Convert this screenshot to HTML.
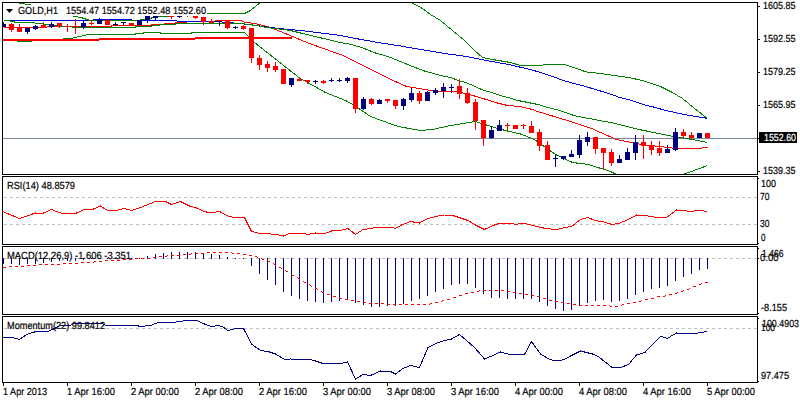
<!DOCTYPE html><html><head><meta charset="utf-8"><style>html,body{margin:0;padding:0;background:#fff;width:800px;height:400px;overflow:hidden}svg{display:block;text-rendering:geometricPrecision}text{font-family:"Liberation Sans",sans-serif;font-size:10px}</style></head><body>
<svg width="800" height="400" viewBox="0 0 800 400" shape-rendering="crispEdges">
<rect width="800" height="400" fill="#fff"/>
<defs><clipPath id="cm"><rect x="3" y="3" width="754" height="171"/></clipPath><clipPath id="cr"><rect x="3" y="177" width="754" height="67"/></clipPath><clipPath id="cd"><rect x="3" y="247" width="754" height="67"/></clipPath><clipPath id="co"><rect x="3" y="317" width="754" height="65"/></clipPath></defs>
<g clip-path="url(#cm)">
<rect x="3" y="138" width="754" height="1" fill="#778899"/>
<polyline points="3.5,27.5 30.5,27.5 63.5,26.5 111.5,26.5 111.5,25.5 151.5,25.5 151.5,24.5 160.5,24.5 167.5,23.5 175.5,23.5 175.5,22.5 183.5,22.5 190.5,21.5 214.5,21.5 215.5,20.5 240.5,20.5 245.5,22.5 255.5,23.5 262.5,25.5 270.5,27.5 278,30.5 308,43 343,55.5 368,68 393,80.5 405.5,86 412.5,87.5 430.5,90.5 440.5,91.5 456.5,91.5 465.5,93.5 474.5,96 484.5,99 497.5,103 507.5,105.5 520.5,106.5 528,108.5 533,109.5 534.5,110.5 570.5,121.5 591.5,128.5 600.5,132.5 616.5,139.5 641.5,144.5 668.5,147.5 675.5,148.5 701.5,148.5 702.5,147.5 707.5,147.5" fill="none" stroke="#ff0000" stroke-width="1" />
<polyline points="8.5,20.5 90.5,20.5 95.5,19.5 128.5,19.5 135.5,20.5 176.5,20.5 177.5,21.5 215.5,21.5 240.5,23.5 278.5,28.5 300.5,30.5 340.5,35.5 358.5,39 378,42.5 400.5,46 420.5,49.5 444.5,53.5 466.5,56.5 486.5,60.5 508.5,64.5 530.5,69.5 540.5,72.5 555.5,77.5 563,80.5 570.5,82.5 585.5,86.5 595.5,89.5 605.5,92.5 614.5,95.5 619.5,97.5 628,99.5 638,102.5 643,104.5 651.5,106.5 655.5,107.5 665.5,110.5 684.5,114.5 707.5,118.5" fill="none" stroke="#0000dd" stroke-width="1" />
<polyline points="18.5,3.5 24.5,3.5 25.5,4.5 30.5,5 74.5,16.5" fill="none" stroke="#008000" stroke-width="1" />
<polyline points="74.5,16.5 80.5,17.5 84.5,18.5 86.5,19.5 90.5,20.5 135.5,20.5 145.5,19.5 151.5,18 161.5,16.5 168.5,16.5 169.5,15.5 206.5,13.5 244.5,13.5 250.5,10.5 261.5,1.5" fill="none" stroke="#008000" stroke-width="1" />
<polyline points="409.5,1.5 422.5,8.5 430.5,14.5 440.5,20.5 452.5,30.5 464.5,40.5 474.5,50.5 482.5,57.5 492.5,59.5 510.5,62.5 520.5,65.5 542.5,65.5 543.5,64.5 564.5,64.5 586.5,72 600.5,73.5 614.5,75.5 628.5,77.5 642.5,80.5 660.5,86.5 672.5,92.5 682.5,98.5 694.5,108.5 707.5,118.5" fill="none" stroke="#008000" stroke-width="1" />
<polyline points="3.5,20.5 8.5,20.5 16.5,22.5 30.5,22.5 62.5,26.5 80.5,27.5 135.5,27.5 135.5,26.5 151.5,26.5 151.5,25.5 159.5,25.5 159.5,24.5 175.5,24.5 175.5,23.5 240.5,23.5 256.5,25.5 266.5,27.5 290.5,30.5 300.5,33 340.5,42.5 350.5,44.25 363,48 375.5,53 388,56.5 400.5,61.5 412.5,66.5 424.5,71 440.5,75.5 450.5,77.5 458.5,80.5 465.5,82.5 473,85.5 481.5,89.5 488,91.5 494.5,93.5 500.5,95.5 508,97.5 518,100.5 528,102.5 538,104.5 548,107.5 559.5,110.5 574,115.5 583.5,117.5 610.5,122.5 641.5,130 673.5,136.5 689.5,139 707.5,142.5" fill="none" stroke="#008000" stroke-width="1" />
<polyline points="16.5,41.5 31.5,41.5 32.5,40.5 62.5,40.5 63.5,38.5 70.5,38.5 88.5,34.5 135.5,34.5 135.5,33.5 143.5,33.5 143.5,32.5 160.5,32.5 160.5,33.5 191.5,33.5 191.5,32.5 244.5,32.5 249.5,37.5 254.5,42.5 299.5,78 325.5,92.5 345.5,100.5 354.5,105.5 370.5,116.5 398,126.5 420.5,130.5 432.5,129.5 450.5,125.5 475.5,121.5 486.5,125 497.5,128.5 509.5,131.5 520.5,134 534.5,139.5 555.5,154.5 572.5,162.5 588.5,164.5 610.5,171.5 618.5,175.5" fill="none" stroke="#008000" stroke-width="1" />
<polyline points="680.5,175.5 707.5,165.5" fill="none" stroke="#008000" stroke-width="1" />
<rect x="3" y="39" width="96" height="2" fill="#ff0000"/>
<rect x="99" y="38" width="96" height="2" fill="#ff0000"/>
<rect x="195" y="37" width="97" height="2" fill="#ff0000"/>
<rect x="3" y="22" width="1" height="5" fill="#000080"/>
<rect x="1" y="24" width="5" height="3" fill="#000080"/>
<rect x="11" y="23" width="1" height="9" fill="#ff0000"/>
<rect x="9" y="24" width="5" height="6" fill="#ff0000"/>
<rect x="19" y="24" width="1" height="8" fill="#ff0000"/>
<rect x="17" y="28" width="5" height="4" fill="#ff0000"/>
<rect x="27" y="28" width="1" height="6" fill="#000080"/>
<rect x="25" y="28" width="5" height="4" fill="#000080"/>
<rect x="35" y="25" width="1" height="5" fill="#000080"/>
<rect x="33" y="26" width="5" height="3" fill="#000080"/>
<rect x="43" y="22" width="1" height="6" fill="#ff0000"/>
<rect x="41" y="25" width="5" height="3" fill="#ff0000"/>
<rect x="51" y="22" width="1" height="6" fill="#000080"/>
<rect x="49" y="24" width="5" height="3" fill="#000080"/>
<rect x="59" y="23" width="1" height="5" fill="#ff0000"/>
<rect x="57" y="23" width="5" height="3" fill="#ff0000"/>
<rect x="67" y="24" width="1" height="8" fill="#ff0000"/>
<rect x="65" y="26" width="5" height="1" fill="#ff0000"/>
<rect x="75" y="19" width="1" height="15" fill="#ff0000"/>
<rect x="73" y="26" width="5" height="1" fill="#ff0000"/>
<rect x="83" y="21" width="1" height="8" fill="#000080"/>
<rect x="81" y="23" width="5" height="4" fill="#000080"/>
<rect x="91" y="20" width="1" height="5" fill="#ff0000"/>
<rect x="89" y="23" width="5" height="1" fill="#ff0000"/>
<rect x="99" y="18" width="1" height="6" fill="#000080"/>
<rect x="97" y="20" width="5" height="4" fill="#000080"/>
<rect x="107" y="20" width="1" height="5" fill="#ff0000"/>
<rect x="105" y="20" width="5" height="5" fill="#ff0000"/>
<rect x="115" y="22" width="1" height="4" fill="#000080"/>
<rect x="113" y="24" width="5" height="1" fill="#000080"/>
<rect x="123" y="22" width="1" height="4" fill="#000080"/>
<rect x="121" y="22" width="5" height="1" fill="#000080"/>
<rect x="131" y="23" width="1" height="2" fill="#ff0000"/>
<rect x="129" y="23" width="5" height="2" fill="#ff0000"/>
<rect x="139" y="20" width="1" height="5" fill="#000080"/>
<rect x="137" y="20" width="5" height="5" fill="#000080"/>
<rect x="147" y="16" width="1" height="7" fill="#000080"/>
<rect x="145" y="16" width="5" height="4" fill="#000080"/>
<rect x="155" y="16" width="1" height="5" fill="#000080"/>
<rect x="153" y="16" width="5" height="2" fill="#000080"/>
<rect x="171" y="16" width="1" height="3" fill="#ff0000"/>
<rect x="169" y="16" width="5" height="1" fill="#ff0000"/>
<rect x="179" y="16" width="1" height="2" fill="#000080"/>
<rect x="177" y="16" width="5" height="1" fill="#000080"/>
<rect x="187" y="15" width="1" height="2" fill="#ff0000"/>
<rect x="185" y="15" width="5" height="1" fill="#ff0000"/>
<rect x="195" y="16" width="1" height="3" fill="#ff0000"/>
<rect x="193" y="16" width="5" height="2" fill="#ff0000"/>
<rect x="203" y="17" width="1" height="8" fill="#ff0000"/>
<rect x="201" y="17" width="5" height="5" fill="#ff0000"/>
<rect x="211" y="19" width="1" height="4" fill="#ff0000"/>
<rect x="209" y="21" width="5" height="2" fill="#ff0000"/>
<rect x="219" y="21" width="1" height="5" fill="#000080"/>
<rect x="217" y="21" width="5" height="1" fill="#000080"/>
<rect x="227" y="20" width="1" height="9" fill="#ff0000"/>
<rect x="225" y="20" width="5" height="8" fill="#ff0000"/>
<rect x="235" y="26" width="1" height="3" fill="#000080"/>
<rect x="233" y="27" width="5" height="1" fill="#000080"/>
<rect x="243" y="25" width="1" height="5" fill="#ff0000"/>
<rect x="241" y="26" width="5" height="3" fill="#ff0000"/>
<rect x="251" y="28" width="1" height="35" fill="#ff0000"/>
<rect x="249" y="28" width="5" height="30" fill="#ff0000"/>
<rect x="259" y="55" width="1" height="15" fill="#ff0000"/>
<rect x="257" y="58" width="5" height="7" fill="#ff0000"/>
<rect x="267" y="61" width="1" height="11" fill="#ff0000"/>
<rect x="265" y="64" width="5" height="4" fill="#ff0000"/>
<rect x="275" y="62" width="1" height="10" fill="#ff0000"/>
<rect x="273" y="66" width="5" height="4" fill="#ff0000"/>
<rect x="283" y="69" width="1" height="15" fill="#ff0000"/>
<rect x="281" y="69" width="5" height="15" fill="#ff0000"/>
<rect x="291" y="78" width="1" height="9" fill="#000080"/>
<rect x="289" y="78" width="5" height="7" fill="#000080"/>
<rect x="299" y="77" width="1" height="4" fill="#ff0000"/>
<rect x="297" y="79" width="5" height="2" fill="#ff0000"/>
<rect x="307" y="80" width="1" height="4" fill="#ff0000"/>
<rect x="305" y="80" width="5" height="2" fill="#ff0000"/>
<rect x="315" y="80" width="1" height="4" fill="#000080"/>
<rect x="313" y="81" width="5" height="1" fill="#000080"/>
<rect x="323" y="80" width="1" height="4" fill="#ff0000"/>
<rect x="321" y="81" width="5" height="2" fill="#ff0000"/>
<rect x="331" y="78" width="1" height="4" fill="#000080"/>
<rect x="329" y="80" width="5" height="1" fill="#000080"/>
<rect x="339" y="78" width="1" height="4" fill="#000080"/>
<rect x="337" y="80" width="5" height="1" fill="#000080"/>
<rect x="347" y="77" width="1" height="6" fill="#000080"/>
<rect x="345" y="78" width="5" height="3" fill="#000080"/>
<rect x="355" y="78" width="1" height="35" fill="#ff0000"/>
<rect x="353" y="78" width="5" height="31" fill="#ff0000"/>
<rect x="363" y="97" width="1" height="13" fill="#000080"/>
<rect x="361" y="99" width="5" height="10" fill="#000080"/>
<rect x="371" y="98" width="1" height="7" fill="#ff0000"/>
<rect x="369" y="99" width="5" height="5" fill="#ff0000"/>
<rect x="379" y="99" width="1" height="5" fill="#000080"/>
<rect x="377" y="100" width="5" height="4" fill="#000080"/>
<rect x="387" y="99" width="1" height="4" fill="#ff0000"/>
<rect x="385" y="99" width="5" height="2" fill="#ff0000"/>
<rect x="395" y="100" width="1" height="9" fill="#ff0000"/>
<rect x="393" y="100" width="5" height="6" fill="#ff0000"/>
<rect x="403" y="98" width="1" height="12" fill="#000080"/>
<rect x="401" y="99" width="5" height="7" fill="#000080"/>
<rect x="411" y="88" width="1" height="14" fill="#000080"/>
<rect x="409" y="93" width="5" height="7" fill="#000080"/>
<rect x="419" y="91" width="1" height="13" fill="#ff0000"/>
<rect x="417" y="93" width="5" height="8" fill="#ff0000"/>
<rect x="427" y="91" width="1" height="10" fill="#000080"/>
<rect x="425" y="92" width="5" height="9" fill="#000080"/>
<rect x="435" y="88" width="1" height="7" fill="#000080"/>
<rect x="433" y="90" width="5" height="3" fill="#000080"/>
<rect x="443" y="83" width="1" height="15" fill="#000080"/>
<rect x="441" y="87" width="5" height="4" fill="#000080"/>
<rect x="451" y="84" width="1" height="9" fill="#000080"/>
<rect x="449" y="87" width="5" height="1" fill="#000080"/>
<rect x="459" y="79" width="1" height="20" fill="#ff0000"/>
<rect x="457" y="86" width="5" height="8" fill="#ff0000"/>
<rect x="467" y="88" width="1" height="16" fill="#ff0000"/>
<rect x="465" y="93" width="5" height="10" fill="#ff0000"/>
<rect x="475" y="99" width="1" height="31" fill="#ff0000"/>
<rect x="473" y="102" width="5" height="19" fill="#ff0000"/>
<rect x="483" y="120" width="1" height="26" fill="#ff0000"/>
<rect x="481" y="120" width="5" height="18" fill="#ff0000"/>
<rect x="491" y="126" width="1" height="13" fill="#000080"/>
<rect x="489" y="130" width="5" height="8" fill="#000080"/>
<rect x="499" y="120" width="1" height="11" fill="#000080"/>
<rect x="497" y="125" width="5" height="6" fill="#000080"/>
<rect x="507" y="123" width="1" height="7" fill="#ff0000"/>
<rect x="505" y="125" width="5" height="1" fill="#ff0000"/>
<rect x="515" y="125" width="1" height="4" fill="#ff0000"/>
<rect x="513" y="125" width="5" height="4" fill="#ff0000"/>
<rect x="523" y="124" width="1" height="5" fill="#ff0000"/>
<rect x="521" y="125" width="5" height="1" fill="#ff0000"/>
<rect x="531" y="121" width="1" height="12" fill="#ff0000"/>
<rect x="529" y="126" width="5" height="7" fill="#ff0000"/>
<rect x="539" y="129" width="1" height="22" fill="#ff0000"/>
<rect x="537" y="132" width="5" height="14" fill="#ff0000"/>
<rect x="547" y="141" width="1" height="19" fill="#ff0000"/>
<rect x="545" y="145" width="5" height="15" fill="#ff0000"/>
<rect x="555" y="155" width="1" height="12" fill="#000080"/>
<rect x="553" y="158" width="5" height="1" fill="#000080"/>
<rect x="563" y="156" width="1" height="4" fill="#000080"/>
<rect x="561" y="156" width="5" height="3" fill="#000080"/>
<rect x="571" y="150" width="1" height="7" fill="#000080"/>
<rect x="569" y="154" width="5" height="3" fill="#000080"/>
<rect x="579" y="135" width="1" height="23" fill="#000080"/>
<rect x="577" y="140" width="5" height="15" fill="#000080"/>
<rect x="587" y="132" width="1" height="14" fill="#000080"/>
<rect x="585" y="137" width="5" height="5" fill="#000080"/>
<rect x="595" y="137" width="1" height="17" fill="#ff0000"/>
<rect x="593" y="137" width="5" height="12" fill="#ff0000"/>
<rect x="603" y="148" width="1" height="22" fill="#ff0000"/>
<rect x="601" y="148" width="5" height="5" fill="#ff0000"/>
<rect x="611" y="149" width="1" height="17" fill="#ff0000"/>
<rect x="609" y="152" width="5" height="11" fill="#ff0000"/>
<rect x="619" y="155" width="1" height="8" fill="#000080"/>
<rect x="617" y="159" width="5" height="4" fill="#000080"/>
<rect x="627" y="148" width="1" height="12" fill="#000080"/>
<rect x="625" y="152" width="5" height="8" fill="#000080"/>
<rect x="635" y="135" width="1" height="25" fill="#000080"/>
<rect x="633" y="142" width="5" height="11" fill="#000080"/>
<rect x="643" y="135" width="1" height="24" fill="#ff0000"/>
<rect x="641" y="142" width="5" height="4" fill="#ff0000"/>
<rect x="651" y="141" width="1" height="14" fill="#ff0000"/>
<rect x="649" y="145" width="5" height="5" fill="#ff0000"/>
<rect x="659" y="141" width="1" height="15" fill="#ff0000"/>
<rect x="657" y="148" width="5" height="5" fill="#ff0000"/>
<rect x="667" y="145" width="1" height="8" fill="#000080"/>
<rect x="665" y="149" width="5" height="4" fill="#000080"/>
<rect x="675" y="128" width="1" height="23" fill="#000080"/>
<rect x="673" y="132" width="5" height="18" fill="#000080"/>
<rect x="683" y="129" width="1" height="9" fill="#ff0000"/>
<rect x="681" y="132" width="5" height="4" fill="#ff0000"/>
<rect x="691" y="132" width="1" height="7" fill="#ff0000"/>
<rect x="689" y="135" width="5" height="3" fill="#ff0000"/>
<rect x="699" y="133" width="1" height="5" fill="#000080"/>
<rect x="697" y="133" width="5" height="5" fill="#000080"/>
<rect x="707" y="133" width="1" height="5" fill="#ff0000"/>
<rect x="705" y="133" width="5" height="5" fill="#ff0000"/>
</g>
<g clip-path="url(#cr)">
<line x1="4" y1="197.5" x2="757" y2="197.5" stroke="#c0c0c0" stroke-dasharray="3,3"/>
<line x1="4" y1="224.5" x2="757" y2="224.5" stroke="#c0c0c0" stroke-dasharray="3,3"/>
<polyline points="2.5,211.5 19.5,218.5 35.5,213 42.5,213.5 51.5,209.5 60.5,213 75.5,213.5 84.5,209.5 92.5,209.5 100.5,206 107.5,210.5 115.5,210.5 124.5,208.5 131.5,210.5 140.5,207.5 150.5,203.5 155.5,201.5 165.5,201.5 171.5,204.5 180.5,201.5 189.5,206 196.5,208 204.5,211.5 210.5,213 219.5,211.5 228,216 234.5,217.5 244.5,217.5 251.5,231.5 258,233 265.5,233.5 276.5,234.5 283.5,236 290.5,233 303,233 308,234.5 315.5,233 324.5,233.5 331.5,231 340.5,230.5 348,228.5 355.5,234.5 363,229.5 370.5,228.5 378,227 390.5,227 395.5,228.5 401.5,225 410.5,221.5 419.5,223 428,218.5 435.5,216.5 444.5,215 451.5,215 460.5,218 468,220.5 476.5,225.5 484.5,229.5 493,225.5 500.5,223 510.5,223 515.5,224.5 523,223 533,225.5 545.5,228.5 556.5,229.5 565.5,227.5 571.5,226.5 580.5,219.5 587.5,217.5 595.5,220.5 603.5,221.9 612.1,224.5 619,223.3 628.5,219.5 636.5,215 646.5,215.8 657.5,217.5 667.1,217.2 676.5,210 686.5,210.9 690.5,211.7 700.1,210 707,211.7" fill="none" stroke="#ff0000" stroke-width="1" />
</g>
<g clip-path="url(#cd)">
<line x1="4" y1="258.5" x2="757" y2="258.5" stroke="#c0c0c0" stroke-dasharray="3,3"/>
<rect x="3" y="258" width="1" height="6" fill="#000080"/>
<rect x="11" y="258" width="1" height="6" fill="#000080"/>
<rect x="19" y="258" width="1" height="7" fill="#000080"/>
<rect x="27" y="258" width="1" height="6" fill="#000080"/>
<rect x="35" y="258" width="1" height="6" fill="#000080"/>
<rect x="43" y="258" width="1" height="5" fill="#000080"/>
<rect x="51" y="258" width="1" height="4" fill="#000080"/>
<rect x="59" y="258" width="1" height="3" fill="#000080"/>
<rect x="67" y="258" width="1" height="3" fill="#000080"/>
<rect x="75" y="258" width="1" height="3" fill="#000080"/>
<rect x="83" y="258" width="1" height="2" fill="#000080"/>
<rect x="91" y="258" width="1" height="1" fill="#000080"/>
<rect x="99" y="258" width="1" height="1" fill="#000080"/>
<rect x="107" y="258" width="1" height="1" fill="#000080"/>
<rect x="115" y="258" width="1" height="1" fill="#000080"/>
<rect x="123" y="258" width="1" height="1" fill="#000080"/>
<rect x="131" y="258" width="1" height="1" fill="#000080"/>
<rect x="139" y="258" width="1" height="1" fill="#000080"/>
<rect x="147" y="256" width="1" height="3" fill="#000080"/>
<rect x="155" y="254" width="1" height="5" fill="#000080"/>
<rect x="163" y="253" width="1" height="6" fill="#000080"/>
<rect x="171" y="252" width="1" height="7" fill="#000080"/>
<rect x="179" y="252" width="1" height="7" fill="#000080"/>
<rect x="187" y="252" width="1" height="7" fill="#000080"/>
<rect x="195" y="252" width="1" height="7" fill="#000080"/>
<rect x="203" y="253" width="1" height="6" fill="#000080"/>
<rect x="211" y="254" width="1" height="5" fill="#000080"/>
<rect x="219" y="255" width="1" height="4" fill="#000080"/>
<rect x="227" y="257" width="1" height="2" fill="#000080"/>
<rect x="235" y="258" width="1" height="1" fill="#000080"/>
<rect x="243" y="258" width="1" height="1" fill="#000080"/>
<rect x="251" y="258" width="1" height="8" fill="#000080"/>
<rect x="259" y="258" width="1" height="16" fill="#000080"/>
<rect x="267" y="258" width="1" height="22" fill="#000080"/>
<rect x="275" y="258" width="1" height="27" fill="#000080"/>
<rect x="283" y="258" width="1" height="34" fill="#000080"/>
<rect x="291" y="258" width="1" height="38" fill="#000080"/>
<rect x="299" y="258" width="1" height="41" fill="#000080"/>
<rect x="307" y="258" width="1" height="43" fill="#000080"/>
<rect x="315" y="258" width="1" height="44" fill="#000080"/>
<rect x="323" y="258" width="1" height="45" fill="#000080"/>
<rect x="331" y="258" width="1" height="44" fill="#000080"/>
<rect x="339" y="258" width="1" height="43" fill="#000080"/>
<rect x="347" y="258" width="1" height="42" fill="#000080"/>
<rect x="355" y="258" width="1" height="45" fill="#000080"/>
<rect x="363" y="258" width="1" height="47" fill="#000080"/>
<rect x="371" y="258" width="1" height="49" fill="#000080"/>
<rect x="379" y="258" width="1" height="49" fill="#000080"/>
<rect x="387" y="258" width="1" height="48" fill="#000080"/>
<rect x="395" y="258" width="1" height="48" fill="#000080"/>
<rect x="403" y="258" width="1" height="46" fill="#000080"/>
<rect x="411" y="258" width="1" height="43" fill="#000080"/>
<rect x="419" y="258" width="1" height="41" fill="#000080"/>
<rect x="427" y="258" width="1" height="38" fill="#000080"/>
<rect x="435" y="258" width="1" height="34" fill="#000080"/>
<rect x="443" y="258" width="1" height="31" fill="#000080"/>
<rect x="451" y="258" width="1" height="27" fill="#000080"/>
<rect x="459" y="258" width="1" height="26" fill="#000080"/>
<rect x="467" y="258" width="1" height="26" fill="#000080"/>
<rect x="475" y="258" width="1" height="30" fill="#000080"/>
<rect x="483" y="258" width="1" height="36" fill="#000080"/>
<rect x="491" y="258" width="1" height="40" fill="#000080"/>
<rect x="499" y="258" width="1" height="40" fill="#000080"/>
<rect x="507" y="258" width="1" height="41" fill="#000080"/>
<rect x="515" y="258" width="1" height="41" fill="#000080"/>
<rect x="523" y="258" width="1" height="41" fill="#000080"/>
<rect x="531" y="258" width="1" height="41" fill="#000080"/>
<rect x="539" y="258" width="1" height="44" fill="#000080"/>
<rect x="547" y="258" width="1" height="48" fill="#000080"/>
<rect x="555" y="258" width="1" height="51" fill="#000080"/>
<rect x="563" y="258" width="1" height="53" fill="#000080"/>
<rect x="571" y="258" width="1" height="52" fill="#000080"/>
<rect x="579" y="258" width="1" height="48" fill="#000080"/>
<rect x="587" y="258" width="1" height="45" fill="#000080"/>
<rect x="595" y="258" width="1" height="43" fill="#000080"/>
<rect x="603" y="258" width="1" height="42" fill="#000080"/>
<rect x="611" y="258" width="1" height="44" fill="#000080"/>
<rect x="619" y="258" width="1" height="43" fill="#000080"/>
<rect x="627" y="258" width="1" height="41" fill="#000080"/>
<rect x="635" y="258" width="1" height="37" fill="#000080"/>
<rect x="643" y="258" width="1" height="34" fill="#000080"/>
<rect x="651" y="258" width="1" height="31" fill="#000080"/>
<rect x="659" y="258" width="1" height="30" fill="#000080"/>
<rect x="667" y="258" width="1" height="28" fill="#000080"/>
<rect x="675" y="258" width="1" height="23" fill="#000080"/>
<rect x="683" y="258" width="1" height="19" fill="#000080"/>
<rect x="691" y="258" width="1" height="16" fill="#000080"/>
<rect x="699" y="258" width="1" height="12" fill="#000080"/>
<rect x="707" y="258" width="1" height="11" fill="#000080"/>
<rect x="3" y="267" width="1" height="1" fill="#ff0000"/>
<rect x="4" y="267" width="1" height="1" fill="#ff0000"/>
<rect x="5" y="267" width="1" height="1" fill="#ff0000"/>
<rect x="9" y="266" width="1" height="1" fill="#ff0000"/>
<rect x="10" y="266" width="1" height="1" fill="#ff0000"/>
<rect x="11" y="266" width="1" height="1" fill="#ff0000"/>
<rect x="15" y="266" width="1" height="1" fill="#ff0000"/>
<rect x="16" y="266" width="1" height="1" fill="#ff0000"/>
<rect x="17" y="266" width="1" height="1" fill="#ff0000"/>
<rect x="21" y="266" width="1" height="1" fill="#ff0000"/>
<rect x="22" y="266" width="1" height="1" fill="#ff0000"/>
<rect x="23" y="266" width="1" height="1" fill="#ff0000"/>
<rect x="27" y="265" width="1" height="1" fill="#ff0000"/>
<rect x="28" y="265" width="1" height="1" fill="#ff0000"/>
<rect x="29" y="265" width="1" height="1" fill="#ff0000"/>
<rect x="33" y="265" width="1" height="1" fill="#ff0000"/>
<rect x="34" y="265" width="1" height="1" fill="#ff0000"/>
<rect x="35" y="265" width="1" height="1" fill="#ff0000"/>
<rect x="39" y="264" width="1" height="1" fill="#ff0000"/>
<rect x="40" y="264" width="1" height="1" fill="#ff0000"/>
<rect x="41" y="264" width="1" height="1" fill="#ff0000"/>
<rect x="45" y="264" width="1" height="1" fill="#ff0000"/>
<rect x="46" y="264" width="1" height="1" fill="#ff0000"/>
<rect x="47" y="264" width="1" height="1" fill="#ff0000"/>
<rect x="51" y="264" width="1" height="1" fill="#ff0000"/>
<rect x="52" y="264" width="1" height="1" fill="#ff0000"/>
<rect x="53" y="264" width="1" height="1" fill="#ff0000"/>
<rect x="57" y="264" width="1" height="1" fill="#ff0000"/>
<rect x="58" y="264" width="1" height="1" fill="#ff0000"/>
<rect x="59" y="264" width="1" height="1" fill="#ff0000"/>
<rect x="63" y="263" width="1" height="1" fill="#ff0000"/>
<rect x="64" y="263" width="1" height="1" fill="#ff0000"/>
<rect x="65" y="263" width="1" height="1" fill="#ff0000"/>
<rect x="69" y="263" width="1" height="1" fill="#ff0000"/>
<rect x="70" y="263" width="1" height="1" fill="#ff0000"/>
<rect x="71" y="263" width="1" height="1" fill="#ff0000"/>
<rect x="75" y="263" width="1" height="1" fill="#ff0000"/>
<rect x="76" y="263" width="1" height="1" fill="#ff0000"/>
<rect x="77" y="263" width="1" height="1" fill="#ff0000"/>
<rect x="81" y="262" width="1" height="1" fill="#ff0000"/>
<rect x="82" y="262" width="1" height="1" fill="#ff0000"/>
<rect x="83" y="262" width="1" height="1" fill="#ff0000"/>
<rect x="87" y="262" width="1" height="1" fill="#ff0000"/>
<rect x="88" y="262" width="1" height="1" fill="#ff0000"/>
<rect x="89" y="262" width="1" height="1" fill="#ff0000"/>
<rect x="93" y="262" width="1" height="1" fill="#ff0000"/>
<rect x="94" y="261" width="1" height="1" fill="#ff0000"/>
<rect x="95" y="261" width="1" height="1" fill="#ff0000"/>
<rect x="99" y="261" width="1" height="1" fill="#ff0000"/>
<rect x="100" y="261" width="1" height="1" fill="#ff0000"/>
<rect x="101" y="261" width="1" height="1" fill="#ff0000"/>
<rect x="105" y="260" width="1" height="1" fill="#ff0000"/>
<rect x="106" y="260" width="1" height="1" fill="#ff0000"/>
<rect x="107" y="260" width="1" height="1" fill="#ff0000"/>
<rect x="111" y="260" width="1" height="1" fill="#ff0000"/>
<rect x="112" y="260" width="1" height="1" fill="#ff0000"/>
<rect x="113" y="260" width="1" height="1" fill="#ff0000"/>
<rect x="117" y="260" width="1" height="1" fill="#ff0000"/>
<rect x="118" y="260" width="1" height="1" fill="#ff0000"/>
<rect x="119" y="260" width="1" height="1" fill="#ff0000"/>
<rect x="123" y="259" width="1" height="1" fill="#ff0000"/>
<rect x="124" y="259" width="1" height="1" fill="#ff0000"/>
<rect x="125" y="259" width="1" height="1" fill="#ff0000"/>
<rect x="129" y="259" width="1" height="1" fill="#ff0000"/>
<rect x="130" y="259" width="1" height="1" fill="#ff0000"/>
<rect x="131" y="259" width="1" height="1" fill="#ff0000"/>
<rect x="135" y="258" width="1" height="1" fill="#ff0000"/>
<rect x="136" y="258" width="1" height="1" fill="#ff0000"/>
<rect x="137" y="258" width="1" height="1" fill="#ff0000"/>
<rect x="141" y="258" width="1" height="1" fill="#ff0000"/>
<rect x="142" y="258" width="1" height="1" fill="#ff0000"/>
<rect x="143" y="258" width="1" height="1" fill="#ff0000"/>
<rect x="147" y="258" width="1" height="1" fill="#ff0000"/>
<rect x="148" y="258" width="1" height="1" fill="#ff0000"/>
<rect x="149" y="258" width="1" height="1" fill="#ff0000"/>
<rect x="153" y="257" width="1" height="1" fill="#ff0000"/>
<rect x="154" y="257" width="1" height="1" fill="#ff0000"/>
<rect x="155" y="257" width="1" height="1" fill="#ff0000"/>
<rect x="159" y="256" width="1" height="1" fill="#ff0000"/>
<rect x="160" y="256" width="1" height="1" fill="#ff0000"/>
<rect x="161" y="256" width="1" height="1" fill="#ff0000"/>
<rect x="165" y="256" width="1" height="1" fill="#ff0000"/>
<rect x="166" y="256" width="1" height="1" fill="#ff0000"/>
<rect x="167" y="255" width="1" height="1" fill="#ff0000"/>
<rect x="171" y="255" width="1" height="1" fill="#ff0000"/>
<rect x="172" y="255" width="1" height="1" fill="#ff0000"/>
<rect x="173" y="255" width="1" height="1" fill="#ff0000"/>
<rect x="177" y="255" width="1" height="1" fill="#ff0000"/>
<rect x="178" y="255" width="1" height="1" fill="#ff0000"/>
<rect x="179" y="255" width="1" height="1" fill="#ff0000"/>
<rect x="183" y="254" width="1" height="1" fill="#ff0000"/>
<rect x="184" y="254" width="1" height="1" fill="#ff0000"/>
<rect x="185" y="254" width="1" height="1" fill="#ff0000"/>
<rect x="189" y="254" width="1" height="1" fill="#ff0000"/>
<rect x="190" y="254" width="1" height="1" fill="#ff0000"/>
<rect x="191" y="253" width="1" height="1" fill="#ff0000"/>
<rect x="195" y="253" width="1" height="1" fill="#ff0000"/>
<rect x="196" y="253" width="1" height="1" fill="#ff0000"/>
<rect x="197" y="253" width="1" height="1" fill="#ff0000"/>
<rect x="201" y="253" width="1" height="1" fill="#ff0000"/>
<rect x="202" y="253" width="1" height="1" fill="#ff0000"/>
<rect x="203" y="253" width="1" height="1" fill="#ff0000"/>
<rect x="207" y="252" width="1" height="1" fill="#ff0000"/>
<rect x="208" y="252" width="1" height="1" fill="#ff0000"/>
<rect x="209" y="252" width="1" height="1" fill="#ff0000"/>
<rect x="213" y="252" width="1" height="1" fill="#ff0000"/>
<rect x="214" y="252" width="1" height="1" fill="#ff0000"/>
<rect x="215" y="252" width="1" height="1" fill="#ff0000"/>
<rect x="219" y="252" width="1" height="1" fill="#ff0000"/>
<rect x="220" y="252" width="1" height="1" fill="#ff0000"/>
<rect x="221" y="252" width="1" height="1" fill="#ff0000"/>
<rect x="225" y="252" width="1" height="1" fill="#ff0000"/>
<rect x="226" y="252" width="1" height="1" fill="#ff0000"/>
<rect x="227" y="252" width="1" height="1" fill="#ff0000"/>
<rect x="231" y="252" width="1" height="1" fill="#ff0000"/>
<rect x="232" y="253" width="1" height="1" fill="#ff0000"/>
<rect x="233" y="253" width="1" height="1" fill="#ff0000"/>
<rect x="237" y="253" width="1" height="1" fill="#ff0000"/>
<rect x="238" y="253" width="1" height="1" fill="#ff0000"/>
<rect x="239" y="253" width="1" height="1" fill="#ff0000"/>
<rect x="243" y="254" width="1" height="1" fill="#ff0000"/>
<rect x="244" y="254" width="1" height="1" fill="#ff0000"/>
<rect x="245" y="254" width="1" height="1" fill="#ff0000"/>
<rect x="249" y="255" width="1" height="1" fill="#ff0000"/>
<rect x="250" y="255" width="1" height="1" fill="#ff0000"/>
<rect x="251" y="255" width="1" height="1" fill="#ff0000"/>
<rect x="255" y="256" width="1" height="1" fill="#ff0000"/>
<rect x="256" y="256" width="1" height="1" fill="#ff0000"/>
<rect x="257" y="257" width="1" height="1" fill="#ff0000"/>
<rect x="261" y="258" width="1" height="1" fill="#ff0000"/>
<rect x="262" y="259" width="1" height="1" fill="#ff0000"/>
<rect x="263" y="259" width="1" height="1" fill="#ff0000"/>
<rect x="267" y="260" width="1" height="1" fill="#ff0000"/>
<rect x="268" y="261" width="1" height="1" fill="#ff0000"/>
<rect x="269" y="261" width="1" height="1" fill="#ff0000"/>
<rect x="273" y="263" width="1" height="1" fill="#ff0000"/>
<rect x="274" y="264" width="1" height="1" fill="#ff0000"/>
<rect x="275" y="265" width="1" height="1" fill="#ff0000"/>
<rect x="279" y="267" width="1" height="1" fill="#ff0000"/>
<rect x="280" y="267" width="1" height="1" fill="#ff0000"/>
<rect x="281" y="268" width="1" height="1" fill="#ff0000"/>
<rect x="285" y="270" width="1" height="1" fill="#ff0000"/>
<rect x="286" y="271" width="1" height="1" fill="#ff0000"/>
<rect x="287" y="271" width="1" height="1" fill="#ff0000"/>
<rect x="291" y="274" width="1" height="1" fill="#ff0000"/>
<rect x="292" y="275" width="1" height="1" fill="#ff0000"/>
<rect x="293" y="275" width="1" height="1" fill="#ff0000"/>
<rect x="297" y="277" width="1" height="1" fill="#ff0000"/>
<rect x="298" y="278" width="1" height="1" fill="#ff0000"/>
<rect x="299" y="279" width="1" height="1" fill="#ff0000"/>
<rect x="303" y="281" width="1" height="1" fill="#ff0000"/>
<rect x="304" y="282" width="1" height="1" fill="#ff0000"/>
<rect x="305" y="282" width="1" height="1" fill="#ff0000"/>
<rect x="309" y="284" width="1" height="1" fill="#ff0000"/>
<rect x="310" y="285" width="1" height="1" fill="#ff0000"/>
<rect x="311" y="286" width="1" height="1" fill="#ff0000"/>
<rect x="315" y="288" width="1" height="1" fill="#ff0000"/>
<rect x="316" y="288" width="1" height="1" fill="#ff0000"/>
<rect x="317" y="289" width="1" height="1" fill="#ff0000"/>
<rect x="321" y="291" width="1" height="1" fill="#ff0000"/>
<rect x="322" y="292" width="1" height="1" fill="#ff0000"/>
<rect x="323" y="292" width="1" height="1" fill="#ff0000"/>
<rect x="327" y="294" width="1" height="1" fill="#ff0000"/>
<rect x="328" y="294" width="1" height="1" fill="#ff0000"/>
<rect x="329" y="294" width="1" height="1" fill="#ff0000"/>
<rect x="333" y="296" width="1" height="1" fill="#ff0000"/>
<rect x="334" y="296" width="1" height="1" fill="#ff0000"/>
<rect x="335" y="296" width="1" height="1" fill="#ff0000"/>
<rect x="339" y="298" width="1" height="1" fill="#ff0000"/>
<rect x="340" y="298" width="1" height="1" fill="#ff0000"/>
<rect x="341" y="298" width="1" height="1" fill="#ff0000"/>
<rect x="345" y="299" width="1" height="1" fill="#ff0000"/>
<rect x="346" y="299" width="1" height="1" fill="#ff0000"/>
<rect x="347" y="299" width="1" height="1" fill="#ff0000"/>
<rect x="351" y="300" width="1" height="1" fill="#ff0000"/>
<rect x="352" y="300" width="1" height="1" fill="#ff0000"/>
<rect x="353" y="300" width="1" height="1" fill="#ff0000"/>
<rect x="357" y="301" width="1" height="1" fill="#ff0000"/>
<rect x="358" y="301" width="1" height="1" fill="#ff0000"/>
<rect x="359" y="301" width="1" height="1" fill="#ff0000"/>
<rect x="363" y="302" width="1" height="1" fill="#ff0000"/>
<rect x="364" y="302" width="1" height="1" fill="#ff0000"/>
<rect x="365" y="302" width="1" height="1" fill="#ff0000"/>
<rect x="369" y="303" width="1" height="1" fill="#ff0000"/>
<rect x="370" y="303" width="1" height="1" fill="#ff0000"/>
<rect x="371" y="303" width="1" height="1" fill="#ff0000"/>
<rect x="375" y="303" width="1" height="1" fill="#ff0000"/>
<rect x="376" y="303" width="1" height="1" fill="#ff0000"/>
<rect x="377" y="303" width="1" height="1" fill="#ff0000"/>
<rect x="381" y="303" width="1" height="1" fill="#ff0000"/>
<rect x="382" y="303" width="1" height="1" fill="#ff0000"/>
<rect x="383" y="303" width="1" height="1" fill="#ff0000"/>
<rect x="387" y="304" width="1" height="1" fill="#ff0000"/>
<rect x="388" y="304" width="1" height="1" fill="#ff0000"/>
<rect x="389" y="304" width="1" height="1" fill="#ff0000"/>
<rect x="393" y="304" width="1" height="1" fill="#ff0000"/>
<rect x="394" y="304" width="1" height="1" fill="#ff0000"/>
<rect x="395" y="304" width="1" height="1" fill="#ff0000"/>
<rect x="399" y="304" width="1" height="1" fill="#ff0000"/>
<rect x="400" y="304" width="1" height="1" fill="#ff0000"/>
<rect x="401" y="304" width="1" height="1" fill="#ff0000"/>
<rect x="405" y="304" width="1" height="1" fill="#ff0000"/>
<rect x="406" y="304" width="1" height="1" fill="#ff0000"/>
<rect x="407" y="304" width="1" height="1" fill="#ff0000"/>
<rect x="411" y="304" width="1" height="1" fill="#ff0000"/>
<rect x="412" y="304" width="1" height="1" fill="#ff0000"/>
<rect x="413" y="304" width="1" height="1" fill="#ff0000"/>
<rect x="417" y="304" width="1" height="1" fill="#ff0000"/>
<rect x="418" y="304" width="1" height="1" fill="#ff0000"/>
<rect x="419" y="304" width="1" height="1" fill="#ff0000"/>
<rect x="423" y="304" width="1" height="1" fill="#ff0000"/>
<rect x="424" y="304" width="1" height="1" fill="#ff0000"/>
<rect x="425" y="304" width="1" height="1" fill="#ff0000"/>
<rect x="429" y="304" width="1" height="1" fill="#ff0000"/>
<rect x="430" y="303" width="1" height="1" fill="#ff0000"/>
<rect x="431" y="303" width="1" height="1" fill="#ff0000"/>
<rect x="435" y="302" width="1" height="1" fill="#ff0000"/>
<rect x="436" y="302" width="1" height="1" fill="#ff0000"/>
<rect x="437" y="302" width="1" height="1" fill="#ff0000"/>
<rect x="441" y="301" width="1" height="1" fill="#ff0000"/>
<rect x="442" y="300" width="1" height="1" fill="#ff0000"/>
<rect x="443" y="300" width="1" height="1" fill="#ff0000"/>
<rect x="447" y="299" width="1" height="1" fill="#ff0000"/>
<rect x="448" y="299" width="1" height="1" fill="#ff0000"/>
<rect x="449" y="299" width="1" height="1" fill="#ff0000"/>
<rect x="453" y="297" width="1" height="1" fill="#ff0000"/>
<rect x="454" y="297" width="1" height="1" fill="#ff0000"/>
<rect x="455" y="297" width="1" height="1" fill="#ff0000"/>
<rect x="459" y="295" width="1" height="1" fill="#ff0000"/>
<rect x="460" y="295" width="1" height="1" fill="#ff0000"/>
<rect x="461" y="295" width="1" height="1" fill="#ff0000"/>
<rect x="465" y="293" width="1" height="1" fill="#ff0000"/>
<rect x="466" y="293" width="1" height="1" fill="#ff0000"/>
<rect x="467" y="293" width="1" height="1" fill="#ff0000"/>
<rect x="471" y="292" width="1" height="1" fill="#ff0000"/>
<rect x="472" y="292" width="1" height="1" fill="#ff0000"/>
<rect x="473" y="292" width="1" height="1" fill="#ff0000"/>
<rect x="477" y="291" width="1" height="1" fill="#ff0000"/>
<rect x="478" y="291" width="1" height="1" fill="#ff0000"/>
<rect x="479" y="290" width="1" height="1" fill="#ff0000"/>
<rect x="483" y="290" width="1" height="1" fill="#ff0000"/>
<rect x="484" y="290" width="1" height="1" fill="#ff0000"/>
<rect x="485" y="290" width="1" height="1" fill="#ff0000"/>
<rect x="489" y="290" width="1" height="1" fill="#ff0000"/>
<rect x="490" y="290" width="1" height="1" fill="#ff0000"/>
<rect x="491" y="290" width="1" height="1" fill="#ff0000"/>
<rect x="495" y="290" width="1" height="1" fill="#ff0000"/>
<rect x="496" y="290" width="1" height="1" fill="#ff0000"/>
<rect x="497" y="290" width="1" height="1" fill="#ff0000"/>
<rect x="501" y="290" width="1" height="1" fill="#ff0000"/>
<rect x="502" y="290" width="1" height="1" fill="#ff0000"/>
<rect x="503" y="290" width="1" height="1" fill="#ff0000"/>
<rect x="507" y="291" width="1" height="1" fill="#ff0000"/>
<rect x="508" y="291" width="1" height="1" fill="#ff0000"/>
<rect x="509" y="291" width="1" height="1" fill="#ff0000"/>
<rect x="513" y="292" width="1" height="1" fill="#ff0000"/>
<rect x="514" y="292" width="1" height="1" fill="#ff0000"/>
<rect x="515" y="292" width="1" height="1" fill="#ff0000"/>
<rect x="519" y="293" width="1" height="1" fill="#ff0000"/>
<rect x="520" y="293" width="1" height="1" fill="#ff0000"/>
<rect x="521" y="293" width="1" height="1" fill="#ff0000"/>
<rect x="525" y="294" width="1" height="1" fill="#ff0000"/>
<rect x="526" y="294" width="1" height="1" fill="#ff0000"/>
<rect x="527" y="294" width="1" height="1" fill="#ff0000"/>
<rect x="531" y="295" width="1" height="1" fill="#ff0000"/>
<rect x="532" y="295" width="1" height="1" fill="#ff0000"/>
<rect x="533" y="295" width="1" height="1" fill="#ff0000"/>
<rect x="537" y="296" width="1" height="1" fill="#ff0000"/>
<rect x="538" y="296" width="1" height="1" fill="#ff0000"/>
<rect x="539" y="296" width="1" height="1" fill="#ff0000"/>
<rect x="543" y="298" width="1" height="1" fill="#ff0000"/>
<rect x="544" y="298" width="1" height="1" fill="#ff0000"/>
<rect x="545" y="298" width="1" height="1" fill="#ff0000"/>
<rect x="549" y="300" width="1" height="1" fill="#ff0000"/>
<rect x="550" y="300" width="1" height="1" fill="#ff0000"/>
<rect x="551" y="300" width="1" height="1" fill="#ff0000"/>
<rect x="555" y="301" width="1" height="1" fill="#ff0000"/>
<rect x="556" y="301" width="1" height="1" fill="#ff0000"/>
<rect x="557" y="301" width="1" height="1" fill="#ff0000"/>
<rect x="561" y="302" width="1" height="1" fill="#ff0000"/>
<rect x="562" y="302" width="1" height="1" fill="#ff0000"/>
<rect x="563" y="302" width="1" height="1" fill="#ff0000"/>
<rect x="567" y="303" width="1" height="1" fill="#ff0000"/>
<rect x="568" y="303" width="1" height="1" fill="#ff0000"/>
<rect x="569" y="303" width="1" height="1" fill="#ff0000"/>
<rect x="573" y="304" width="1" height="1" fill="#ff0000"/>
<rect x="574" y="304" width="1" height="1" fill="#ff0000"/>
<rect x="575" y="304" width="1" height="1" fill="#ff0000"/>
<rect x="579" y="305" width="1" height="1" fill="#ff0000"/>
<rect x="580" y="305" width="1" height="1" fill="#ff0000"/>
<rect x="581" y="305" width="1" height="1" fill="#ff0000"/>
<rect x="585" y="305" width="1" height="1" fill="#ff0000"/>
<rect x="586" y="305" width="1" height="1" fill="#ff0000"/>
<rect x="587" y="305" width="1" height="1" fill="#ff0000"/>
<rect x="591" y="305" width="1" height="1" fill="#ff0000"/>
<rect x="592" y="305" width="1" height="1" fill="#ff0000"/>
<rect x="593" y="305" width="1" height="1" fill="#ff0000"/>
<rect x="597" y="305" width="1" height="1" fill="#ff0000"/>
<rect x="598" y="305" width="1" height="1" fill="#ff0000"/>
<rect x="599" y="305" width="1" height="1" fill="#ff0000"/>
<rect x="603" y="305" width="1" height="1" fill="#ff0000"/>
<rect x="604" y="305" width="1" height="1" fill="#ff0000"/>
<rect x="605" y="305" width="1" height="1" fill="#ff0000"/>
<rect x="609" y="305" width="1" height="1" fill="#ff0000"/>
<rect x="610" y="306" width="1" height="1" fill="#ff0000"/>
<rect x="611" y="306" width="1" height="1" fill="#ff0000"/>
<rect x="615" y="306" width="1" height="1" fill="#ff0000"/>
<rect x="616" y="306" width="1" height="1" fill="#ff0000"/>
<rect x="617" y="306" width="1" height="1" fill="#ff0000"/>
<rect x="621" y="305" width="1" height="1" fill="#ff0000"/>
<rect x="622" y="304" width="1" height="1" fill="#ff0000"/>
<rect x="623" y="304" width="1" height="1" fill="#ff0000"/>
<rect x="627" y="303" width="1" height="1" fill="#ff0000"/>
<rect x="628" y="303" width="1" height="1" fill="#ff0000"/>
<rect x="629" y="303" width="1" height="1" fill="#ff0000"/>
<rect x="633" y="302" width="1" height="1" fill="#ff0000"/>
<rect x="634" y="302" width="1" height="1" fill="#ff0000"/>
<rect x="635" y="302" width="1" height="1" fill="#ff0000"/>
<rect x="639" y="301" width="1" height="1" fill="#ff0000"/>
<rect x="640" y="301" width="1" height="1" fill="#ff0000"/>
<rect x="641" y="300" width="1" height="1" fill="#ff0000"/>
<rect x="645" y="299" width="1" height="1" fill="#ff0000"/>
<rect x="646" y="299" width="1" height="1" fill="#ff0000"/>
<rect x="647" y="299" width="1" height="1" fill="#ff0000"/>
<rect x="651" y="298" width="1" height="1" fill="#ff0000"/>
<rect x="652" y="298" width="1" height="1" fill="#ff0000"/>
<rect x="653" y="298" width="1" height="1" fill="#ff0000"/>
<rect x="657" y="296" width="1" height="1" fill="#ff0000"/>
<rect x="658" y="296" width="1" height="1" fill="#ff0000"/>
<rect x="659" y="296" width="1" height="1" fill="#ff0000"/>
<rect x="663" y="296" width="1" height="1" fill="#ff0000"/>
<rect x="664" y="296" width="1" height="1" fill="#ff0000"/>
<rect x="665" y="295" width="1" height="1" fill="#ff0000"/>
<rect x="669" y="294" width="1" height="1" fill="#ff0000"/>
<rect x="670" y="294" width="1" height="1" fill="#ff0000"/>
<rect x="671" y="294" width="1" height="1" fill="#ff0000"/>
<rect x="675" y="293" width="1" height="1" fill="#ff0000"/>
<rect x="676" y="293" width="1" height="1" fill="#ff0000"/>
<rect x="677" y="292" width="1" height="1" fill="#ff0000"/>
<rect x="681" y="291" width="1" height="1" fill="#ff0000"/>
<rect x="682" y="291" width="1" height="1" fill="#ff0000"/>
<rect x="683" y="290" width="1" height="1" fill="#ff0000"/>
<rect x="687" y="289" width="1" height="1" fill="#ff0000"/>
<rect x="688" y="289" width="1" height="1" fill="#ff0000"/>
<rect x="689" y="288" width="1" height="1" fill="#ff0000"/>
<rect x="693" y="286" width="1" height="1" fill="#ff0000"/>
<rect x="694" y="286" width="1" height="1" fill="#ff0000"/>
<rect x="695" y="286" width="1" height="1" fill="#ff0000"/>
<rect x="699" y="284" width="1" height="1" fill="#ff0000"/>
<rect x="700" y="284" width="1" height="1" fill="#ff0000"/>
<rect x="701" y="283" width="1" height="1" fill="#ff0000"/>
<rect x="705" y="282" width="1" height="1" fill="#ff0000"/>
<rect x="706" y="282" width="1" height="1" fill="#ff0000"/>
<rect x="707" y="282" width="1" height="1" fill="#ff0000"/>
</g>
<g clip-path="url(#co)">
<line x1="4" y1="328.5" x2="757" y2="328.5" stroke="#c0c0c0" stroke-dasharray="3,3"/>
<polyline points="2.5,337.5 12.5,337.5 19.5,339.5 26.5,334.5 34.5,332 44.5,331.5 47.5,331.5 52.5,329.5 56.5,327.5 59.5,325.5 69.5,325.5 74.5,323.5 83,323 93,323 102.5,323.5 105.5,325.5 136.5,325.5 140.5,326.5 150.5,325.5 158,322.5 170.5,322.75 183,321 193,320.5 196.5,320.5 204.5,324 211.5,326.5 218,325.5 223,327 228,330.5 235.5,328.5 243.5,328.5 251.5,344 260.5,350.5 268,351.5 275.5,354 284.5,359.5 290.5,359 300.5,359.5 308,359 315.5,361 323,363.5 340.5,363.5 347.5,362 355.5,379 363,374.5 370.5,375.5 380.5,371 390.5,371.5 395.5,374 403,368.5 410.5,365.5 419.5,367.5 428,347.5 438,342.5 444.5,340.5 451.5,339 459.5,334.5 466.5,340.5 474.5,347.5 484.5,359 493,355.5 500.5,352 508,354 515.5,354.5 524.5,354.5 531.5,341.5 540.5,354 549.5,359.5 556.5,361 564.5,359.5 571.5,355.5 580.5,351 594.5,354.5 599.5,357.5 612.1,367.5 620.5,367.5 628.5,364.5 636.5,355 645.1,352.25 660.5,336.3 667.1,338.5 676.5,333 693.3,333.8 707,331.5" fill="none" stroke="#000080" stroke-width="1" />
</g>
<rect x="2" y="2" width="756" height="1" fill="#000"/>
<rect x="2" y="174" width="756" height="1" fill="#000"/>
<rect x="2" y="2" width="1" height="173" fill="#000"/>
<rect x="757" y="2" width="1" height="173" fill="#000"/>
<rect x="2" y="176" width="756" height="1" fill="#000"/>
<rect x="2" y="244" width="756" height="1" fill="#000"/>
<rect x="2" y="176" width="1" height="69" fill="#000"/>
<rect x="757" y="176" width="1" height="69" fill="#000"/>
<rect x="2" y="246" width="756" height="1" fill="#000"/>
<rect x="2" y="314" width="756" height="1" fill="#000"/>
<rect x="2" y="246" width="1" height="69" fill="#000"/>
<rect x="757" y="246" width="1" height="69" fill="#000"/>
<rect x="2" y="316" width="756" height="1" fill="#000"/>
<rect x="2" y="382" width="756" height="1" fill="#000"/>
<rect x="2" y="316" width="1" height="67" fill="#000"/>
<rect x="757" y="316" width="1" height="67" fill="#000"/>
<rect x="758" y="6" width="2" height="1" fill="#000"/>
<text x="763" y="9" textLength="32.5" lengthAdjust="spacingAndGlyphs" style="font-size:10.3px;fill:#000;stroke:#000;stroke-width:0.2px" shape-rendering="auto">1605.85</text>
<rect x="758" y="39" width="2" height="1" fill="#000"/>
<text x="763" y="42" textLength="32.5" lengthAdjust="spacingAndGlyphs" style="font-size:10.3px;fill:#000;stroke:#000;stroke-width:0.2px" shape-rendering="auto">1592.55</text>
<rect x="758" y="72" width="2" height="1" fill="#000"/>
<text x="763" y="75" textLength="32.5" lengthAdjust="spacingAndGlyphs" style="font-size:10.3px;fill:#000;stroke:#000;stroke-width:0.2px" shape-rendering="auto">1579.25</text>
<rect x="758" y="105" width="2" height="1" fill="#000"/>
<text x="763" y="108" textLength="32.5" lengthAdjust="spacingAndGlyphs" style="font-size:10.3px;fill:#000;stroke:#000;stroke-width:0.2px" shape-rendering="auto">1565.95</text>
<rect x="758" y="171" width="2" height="1" fill="#000"/>
<text x="763" y="174" textLength="32.5" lengthAdjust="spacingAndGlyphs" style="font-size:10.3px;fill:#000;stroke:#000;stroke-width:0.2px" shape-rendering="auto">1539.35</text>
<rect x="759" y="132" width="38" height="11" fill="#000"/>
<rect x="758" y="138" width="1" height="1" fill="#000"/>
<text x="764" y="141" textLength="32" lengthAdjust="spacingAndGlyphs" style="font-size:10.3px;fill:#fff;stroke:#fff;stroke-width:0.2px" shape-rendering="auto">1552.60</text>
<text x="761" y="187" textLength="15" lengthAdjust="spacingAndGlyphs" style="font-size:10.3px;fill:#000;stroke:#000;stroke-width:0.2px" shape-rendering="auto">100</text>
<text x="760" y="200" textLength="9.5" lengthAdjust="spacingAndGlyphs" style="font-size:10.3px;fill:#000;stroke:#000;stroke-width:0.2px" shape-rendering="auto">70</text>
<text x="760" y="227" textLength="9.5" lengthAdjust="spacingAndGlyphs" style="font-size:10.3px;fill:#000;stroke:#000;stroke-width:0.2px" shape-rendering="auto">30</text>
<text x="761" y="241" textLength="4.5" lengthAdjust="spacingAndGlyphs" style="font-size:10.3px;fill:#000;stroke:#000;stroke-width:0.2px" shape-rendering="auto">0</text>
<rect x="758" y="178" width="1" height="1" fill="#000"/>
<rect x="758" y="243" width="1" height="1" fill="#000"/>
<text x="762" y="257" textLength="21.5" lengthAdjust="spacingAndGlyphs" style="font-size:10.3px;fill:#000;stroke:#000;stroke-width:0.2px" shape-rendering="auto">1.466</text>
<text x="760" y="261" textLength="18.5" lengthAdjust="spacingAndGlyphs" style="font-size:10.3px;fill:#000;stroke:#000;stroke-width:0.2px" shape-rendering="auto">0.00</text>
<text x="761" y="311" textLength="26" lengthAdjust="spacingAndGlyphs" style="font-size:10.3px;fill:#000;stroke:#000;stroke-width:0.2px" shape-rendering="auto">-8.155</text>
<rect x="758" y="248" width="1" height="1" fill="#000"/>
<rect x="758" y="258" width="1" height="1" fill="#000"/>
<rect x="758" y="313" width="1" height="1" fill="#000"/>
<text x="762" y="327" textLength="37" lengthAdjust="spacingAndGlyphs" style="font-size:10.3px;fill:#000;stroke:#000;stroke-width:0.2px" shape-rendering="auto">100.4903</text>
<text x="761" y="331" textLength="14" lengthAdjust="spacingAndGlyphs" style="font-size:10.3px;fill:#000;stroke:#000;stroke-width:0.2px" shape-rendering="auto">100</text>
<text x="761" y="379" textLength="28" lengthAdjust="spacingAndGlyphs" style="font-size:10.3px;fill:#000;stroke:#000;stroke-width:0.2px" shape-rendering="auto">97.475</text>
<rect x="758" y="318" width="1" height="1" fill="#000"/>
<rect x="758" y="381" width="1" height="1" fill="#000"/>
<rect x="3" y="5" width="204" height="11" fill="#fff"/>
<path d="M6,9 L13,9 L9.5,13 Z" fill="#000" shape-rendering="auto"/>
<text x="18" y="14" textLength="40" lengthAdjust="spacingAndGlyphs" style="font-size:10.3px;fill:#000;stroke:#000;stroke-width:0.2px" shape-rendering="auto">GOLD,H1</text>
<text x="66" y="14" textLength="140" lengthAdjust="spacingAndGlyphs" style="font-size:10.3px;fill:#000;stroke:#000;stroke-width:0.2px" shape-rendering="auto">1554.47 1554.72 1552.48 1552.60</text>
<text x="7" y="189" textLength="68" lengthAdjust="spacingAndGlyphs" style="font-size:10.3px;fill:#000;stroke:#000;stroke-width:0.2px" shape-rendering="auto">RSI(14) 48.8579</text>
<text x="7" y="259" textLength="124" lengthAdjust="spacingAndGlyphs" style="font-size:10.3px;fill:#000;stroke:#000;stroke-width:0.2px" shape-rendering="auto">MACD(12,26,9) -1.606 -3.351</text>
<text x="7" y="329" textLength="98" lengthAdjust="spacingAndGlyphs" style="font-size:10.3px;fill:#000;stroke:#000;stroke-width:0.2px" shape-rendering="auto">Momentum(22) 99.8412</text>
<rect x="3" y="383" width="1" height="3" fill="#000"/>
<text x="3" y="395" textLength="44" lengthAdjust="spacingAndGlyphs" style="font-size:10.3px;fill:#000;stroke:#000;stroke-width:0.2px" shape-rendering="auto">1 Apr 2013</text>
<rect x="67" y="383" width="1" height="3" fill="#000"/>
<text x="67" y="395" textLength="48" lengthAdjust="spacingAndGlyphs" style="font-size:10.3px;fill:#000;stroke:#000;stroke-width:0.2px" shape-rendering="auto">1 Apr 16:00</text>
<rect x="131" y="383" width="1" height="3" fill="#000"/>
<text x="131" y="395" textLength="48" lengthAdjust="spacingAndGlyphs" style="font-size:10.3px;fill:#000;stroke:#000;stroke-width:0.2px" shape-rendering="auto">2 Apr 00:00</text>
<rect x="195" y="383" width="1" height="3" fill="#000"/>
<text x="195" y="395" textLength="48" lengthAdjust="spacingAndGlyphs" style="font-size:10.3px;fill:#000;stroke:#000;stroke-width:0.2px" shape-rendering="auto">2 Apr 08:00</text>
<rect x="259" y="383" width="1" height="3" fill="#000"/>
<text x="259" y="395" textLength="48" lengthAdjust="spacingAndGlyphs" style="font-size:10.3px;fill:#000;stroke:#000;stroke-width:0.2px" shape-rendering="auto">2 Apr 16:00</text>
<rect x="323" y="383" width="1" height="3" fill="#000"/>
<text x="323" y="395" textLength="48" lengthAdjust="spacingAndGlyphs" style="font-size:10.3px;fill:#000;stroke:#000;stroke-width:0.2px" shape-rendering="auto">3 Apr 00:00</text>
<rect x="387" y="383" width="1" height="3" fill="#000"/>
<text x="387" y="395" textLength="48" lengthAdjust="spacingAndGlyphs" style="font-size:10.3px;fill:#000;stroke:#000;stroke-width:0.2px" shape-rendering="auto">3 Apr 08:00</text>
<rect x="451" y="383" width="1" height="3" fill="#000"/>
<text x="451" y="395" textLength="48" lengthAdjust="spacingAndGlyphs" style="font-size:10.3px;fill:#000;stroke:#000;stroke-width:0.2px" shape-rendering="auto">3 Apr 16:00</text>
<rect x="515" y="383" width="1" height="3" fill="#000"/>
<text x="515" y="395" textLength="48" lengthAdjust="spacingAndGlyphs" style="font-size:10.3px;fill:#000;stroke:#000;stroke-width:0.2px" shape-rendering="auto">4 Apr 00:00</text>
<rect x="579" y="383" width="1" height="3" fill="#000"/>
<text x="579" y="395" textLength="48" lengthAdjust="spacingAndGlyphs" style="font-size:10.3px;fill:#000;stroke:#000;stroke-width:0.2px" shape-rendering="auto">4 Apr 08:00</text>
<rect x="643" y="383" width="1" height="3" fill="#000"/>
<text x="643" y="395" textLength="48" lengthAdjust="spacingAndGlyphs" style="font-size:10.3px;fill:#000;stroke:#000;stroke-width:0.2px" shape-rendering="auto">4 Apr 16:00</text>
<rect x="707" y="383" width="1" height="3" fill="#000"/>
<text x="707" y="395" textLength="48" lengthAdjust="spacingAndGlyphs" style="font-size:10.3px;fill:#000;stroke:#000;stroke-width:0.2px" shape-rendering="auto">5 Apr 00:00</text>
</svg></body></html>
